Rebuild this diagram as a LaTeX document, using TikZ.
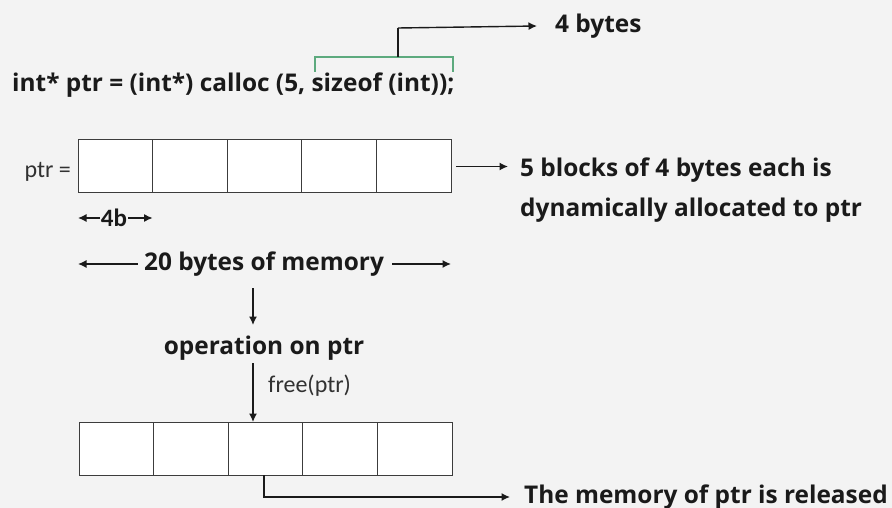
\documentclass[tikz,border=0pt]{standalone}
\usepackage{fontspec}
\setmainfont{Open Sans}
\newfontfamily\carl{Carlito}
\usetikzlibrary{arrows.meta}
\definecolor{bg}{HTML}{F3F3F3}
\definecolor{brk}{HTML}{5DAA7E}
\definecolor{ink}{HTML}{1A1A1A}
\begin{document}
\begin{tikzpicture}[x=1pt,y=-1pt,
  cell/.style={draw=ink!85, fill=white, line width=1pt, minimum width=74.6pt, minimum height=53pt, inner sep=0pt, outer sep=0pt},
  big/.style={font=\fontsize{24.4}{29}\selectfont\bfseries, text=ink, inner sep=0pt},
  small/.style={font=\carl\fontsize{24}{28}\selectfont, text=ink!90, inner sep=0pt},
  mid/.style={font=\carl\fontsize{25}{28}\selectfont\bfseries, text=ink, inner sep=0pt},
  arr/.style={-{Latex[length=8.5pt,width=8pt]}, line width=1.4pt, draw=ink},
  brack/.style={draw=brk, line width=1.3pt},
  line/.style={draw=ink, line width=1.4pt},
]
\fill[bg] (0,0) rectangle (892,508);
\useasboundingbox (0,0) rectangle (892,508);

% code line
\node[big, anchor=base west] (code) at (12,92) {int* ptr = (int*) calloc (5, sizeof (int));};

% bracket over sizeof(int)
\coordinate (bl) at (315,72);
\coordinate (br) at (453,72);
\coordinate (bm) at (398,57);
\draw[brack] (bl) |- (bm) -| (br);
\node[big, anchor=west] (four) at (555,26) {4 bytes};
\draw[line] (bm) -- (398,28) coordinate (bt);
\draw[arr] (bt) -- ([xshift=-18pt]four.west);

% top row of cells
\foreach \i in {1,...,5}
  \node[cell, anchor=north west] (t\i) at ({78+74.6*(\i-1)},140) {};
\node[small, anchor=base east] (plab) at (71,178) {ptr =};

\node[big, anchor=base west] (d1) at (520,177) {5 blocks of 4 bytes each is};
\node[big, anchor=base west] (d2) at (520,216) {dynamically allocated to ptr};
\draw[arr] ([xshift=5pt]t5.east) -- ([xshift=-12pt]d1.west |- t5.east);

% 4b
\node[mid] (fb) at (114,218) {4b};
\draw[arr] ([xshift=-1pt]fb.west) -- (t1.west |- fb.west);
\draw[arr] ([xshift=1pt]fb.east) -- (t1.east |- fb.east);

% 20 bytes
\node[big] (twenty) at (264,264) {20 bytes of memory};
\draw[arr] ([xshift=-6pt]twenty.west) -- (t1.west |- twenty.west);
\draw[arr] ([xshift=8pt]twenty.east) -- (t5.east |- twenty.east);

% operation
\node[big] (op) at (264,348) {operation on ptr};
\draw[arr] (253,288) -- (253,325);

% bottom row
\foreach \i in {1,...,5}
  \node[cell, anchor=north west] (b\i) at ({79+74.6*(\i-1)},422) {};
\draw[arr] (253,363) -- (b3.north -| 253,0);
\node[small, anchor=west] (fr) at (268,386) {free(ptr)};

% release
\node[big, anchor=base west] (rel) at (524,503) {The memory of ptr is released};
\draw[arr] (b3.south -| 264,0) |- ([xshift=-14pt]rel.west |- 0,497);
\end{tikzpicture}
\end{document}
